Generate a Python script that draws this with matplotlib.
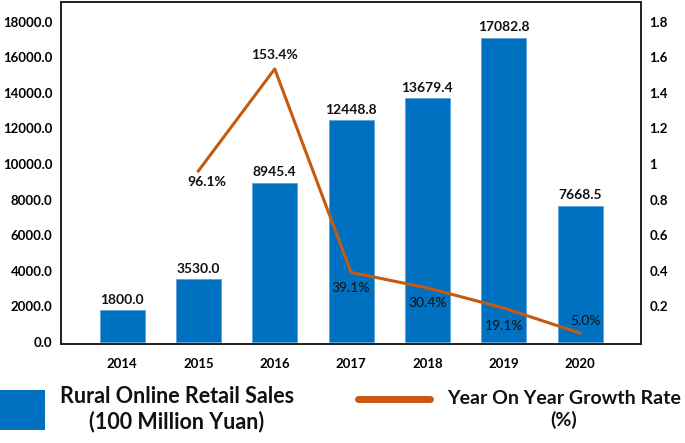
import numpy as np
import matplotlib
matplotlib.use("Agg")
import matplotlib.pyplot as plt
from matplotlib.ticker import FuncFormatter, MultipleLocator
from matplotlib.lines import Line2D
from matplotlib.patches import Rectangle

# ── Data ──────────────────────────────────────────────────────────────────────
years = ["2014", "2015", "2016", "2017", "2018", "2019", "2020"]
sales = [1800.0, 3530.0, 8945.4, 12448.8, 13679.4, 17082.8, 7668.5]
growth_years = ["2015", "2016", "2017", "2018", "2019", "2020"]
growth = [0.961, 1.534, 0.391, 0.304, 0.191, 0.050]
growth_labels = ["96.1%", "153.4%", "39.1%", "30.4%", "19.1%", "5.0%"]

BLUE = "#0070C0"
ORANGE = "#C55A11"
FONT = ["Lato", "DejaVu Sans"]

fig = plt.figure(figsize=(6.85, 4.43), dpi=100)
ax = fig.add_axes([0.089, 0.2235, 0.847, 0.772])
ax2 = ax.twinx()

x = np.arange(len(years))
ax.bar(x, sales, width=0.59, color=BLUE, edgecolor="#5B9BD5", linewidth=0.5, zorder=2)
for xi, v in zip(x, sales):
    ax.text(xi, v + 250, f"{v:.1f}", ha="center", va="bottom", fontsize=10,
            fontweight="bold", family=FONT, color="#111111")

gx = np.array([years.index(y) for y in growth_years])
ax2.plot(gx, growth, color=ORANGE, linewidth=2.2, zorder=3)

# growth labels: (dx, dy in points, weight)
label_offsets = [(6, -8, "bold"), (0, 10, "bold"), (0, -11, "normal"),
                 (0, -11, "normal"), (0, -13, "normal"), (4, 8.5, "normal")]
for xi, v, lab, (dx, dy, w) in zip(gx, growth, growth_labels, label_offsets):
    ax2.annotate(lab, (xi, v), xytext=(dx, dy), textcoords="offset points",
                 ha="center", va="center", fontsize=10, fontweight=w,
                 family=FONT, color="#111111", zorder=4)

ax.set_xlim(-0.8, len(years) - 0.2)
ax.set_ylim(-110, 19100)
ax2.set_ylim(-0.011, 1.91)
ax.yaxis.set_major_locator(MultipleLocator(2000))
ax2.yaxis.set_major_locator(MultipleLocator(0.2))
ax.yaxis.set_major_formatter(FuncFormatter(lambda v, p: f"{v:.1f}" if v >= 0 else ""))


def right_fmt(v, p):
    if v < 0.05:
        return ""
    if abs(v - round(v)) < 1e-6:
        return f"{int(round(v))}"
    return f"{v:.1f}"


ax2.yaxis.set_major_formatter(FuncFormatter(right_fmt))
ax.set_xticks(x)
ax.set_xticklabels(years)

for a in (ax, ax2):
    a.tick_params(length=0)
    for lab in a.get_yticklabels() + a.get_xticklabels():
        lab.set_family(FONT)
        lab.set_fontweight("bold")
        lab.set_fontsize(9.5)
    for s in a.spines.values():
        s.set_color("#222222")
        s.set_linewidth(1.3)
ax.tick_params(axis="y", pad=6)
ax.tick_params(axis="x", pad=10)
ax2.tick_params(axis="y", pad=6)

# ── Legend drawn in figure coordinates ──────────────────────────────────────
fig.patches.append(Rectangle((0.0, 0.03), 0.065, 0.09, transform=fig.transFigure,
                             facecolor=BLUE, edgecolor="none"))
fig.text(0.258, 0.076, "Rural Online Retail Sales\n(100 Million Yuan)", ha="center",
         va="center", fontsize=15.5, fontweight="bold", family=FONT,
         linespacing=1.2, color="#111111")
fig.lines.append(Line2D([0.522, 0.628], [0.100, 0.100], transform=fig.transFigure,
                        color=ORANGE, linewidth=5, solid_capstyle="round"))
fig.text(0.823, 0.076, "Year On Year Growth Rate\n(%)", ha="center",
         va="center", fontsize=14, fontweight="bold", family=FONT,
         linespacing=1.3, color="#111111")

fig.savefig("out.png", dpi=100)
